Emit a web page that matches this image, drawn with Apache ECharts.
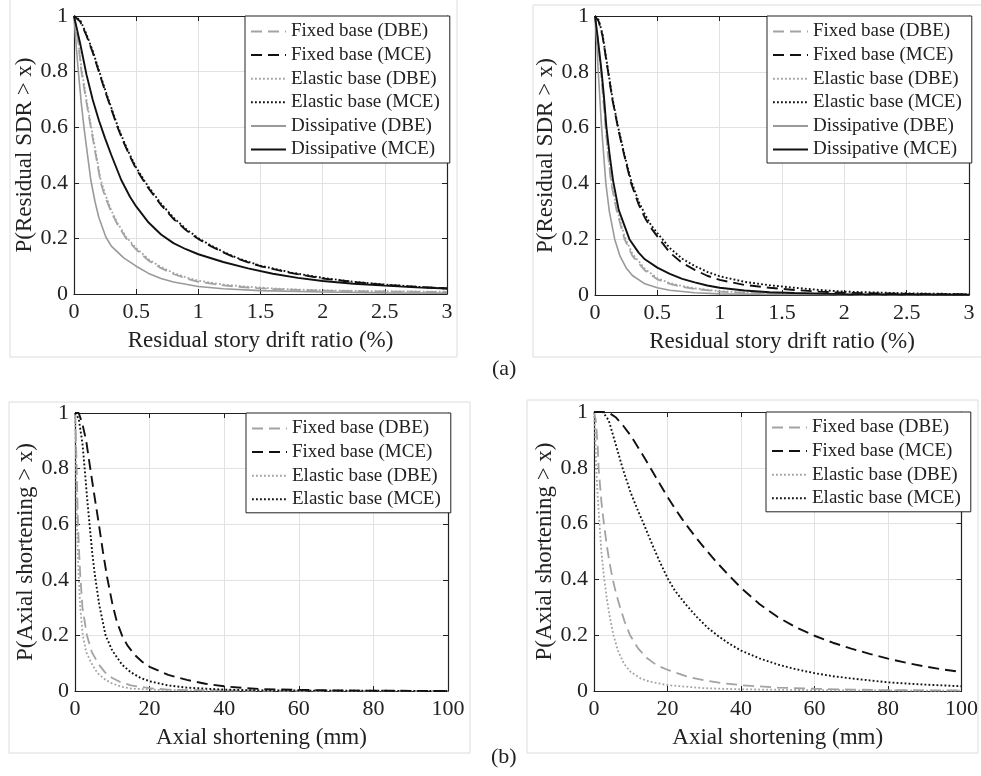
<!DOCTYPE html>
<html>
<head>
<meta charset="utf-8">
<script src="https://cdn.jsdelivr.net/npm/echarts@6/dist/echarts.min.js"></script>
<style>
  html, body { margin: 0; padding: 0; background: #fff; }
  #main { width: 981px; height: 776px; }
</style>
</head>
<body>
<div id="main"></div>
<script>
// ---- data: [x, P(>x)] ----
// (a) left : residual SDR (%)
var a1FixedDBE = [[0,1],[0.03,0.92],[0.06,0.8],[0.1,0.69],[0.135,0.6],[0.175,0.5],[0.215,0.4],[0.25,0.35],[0.3,0.295],[0.35,0.25],[0.42,0.2],[0.5,0.16],[0.6,0.12],[0.7,0.093],[0.8,0.072],[0.9,0.056],[1,0.044],[1.2,0.031],[1.4,0.023],[1.6,0.018],[1.8,0.015],[2,0.012],[2.5,0.009],[3,0.007]];
var a1FixedMCE = [[0,1],[0.05,0.98],[0.1,0.93],[0.15,0.87],[0.2,0.8],[0.25,0.73],[0.3,0.665],[0.35,0.6],[0.4,0.545],[0.45,0.495],[0.5,0.45],[0.57,0.4],[0.6,0.38],[0.7,0.32],[0.8,0.27],[0.9,0.23],[1,0.198],[1.1,0.172],[1.2,0.15],[1.3,0.13],[1.4,0.114],[1.5,0.1],[1.75,0.075],[2,0.056],[2.25,0.043],[2.5,0.033],[2.75,0.026],[3,0.02]];
var a1ElasticDBE = [[0,1],[0.03,0.93],[0.06,0.81],[0.1,0.7],[0.135,0.61],[0.175,0.51],[0.215,0.41],[0.25,0.36],[0.3,0.3],[0.35,0.255],[0.42,0.205],[0.5,0.165],[0.6,0.125],[0.7,0.097],[0.8,0.076],[0.9,0.06],[1,0.048],[1.2,0.034],[1.4,0.026],[1.6,0.02],[1.8,0.016],[2,0.013],[2.5,0.01],[3,0.008]];
var a1ElasticMCE = [[0,1],[0.05,0.985],[0.1,0.935],[0.15,0.875],[0.2,0.805],[0.25,0.735],[0.3,0.67],[0.35,0.605],[0.4,0.55],[0.45,0.5],[0.5,0.455],[0.57,0.405],[0.6,0.385],[0.7,0.325],[0.8,0.275],[0.9,0.234],[1,0.201],[1.1,0.175],[1.2,0.152],[1.3,0.132],[1.4,0.116],[1.5,0.102],[1.75,0.077],[2,0.058],[2.25,0.044],[2.5,0.034],[2.75,0.026],[3,0.02]];
var a1DissDBE = [[0,1],[0.02,0.88],[0.035,0.8],[0.06,0.68],[0.08,0.6],[0.1,0.53],[0.135,0.41],[0.17,0.33],[0.2,0.275],[0.256,0.205],[0.3,0.172],[0.4,0.13],[0.5,0.1],[0.6,0.074],[0.7,0.056],[0.8,0.043],[1,0.027],[1.2,0.019],[1.5,0.012],[2,0.007],[2.5,0.004],[3,0.003]];
var a1DissMCE = [[0,1],[0.025,0.95],[0.05,0.9],[0.1,0.79],[0.15,0.7],[0.2,0.625],[0.25,0.56],[0.3,0.5],[0.38,0.41],[0.45,0.35],[0.5,0.315],[0.6,0.257],[0.7,0.214],[0.8,0.183],[0.9,0.161],[1,0.143],[1.2,0.115],[1.4,0.092],[1.6,0.073],[1.8,0.058],[2,0.047],[2.25,0.037],[2.5,0.03],[2.75,0.024],[3,0.02]];

// (a) right
var a2FixedDBE = [[0,1],[0.02,0.92],[0.048,0.8],[0.085,0.6],[0.105,0.5],[0.13,0.4],[0.175,0.3],[0.237,0.2],[0.3,0.14],[0.4,0.088],[0.5,0.056],[0.6,0.04],[0.7,0.029],[0.8,0.022],[1,0.012],[1.2,0.008],[1.5,0.005],[2,0.002],[3,0.001]];
var a2FixedMCE = [[0,1],[0.03,0.98],[0.06,0.93],[0.105,0.8],[0.14,0.7],[0.184,0.6],[0.235,0.5],[0.29,0.4],[0.35,0.325],[0.4,0.277],[0.45,0.24],[0.5,0.21],[0.6,0.152],[0.7,0.115],[0.8,0.09],[0.9,0.069],[1,0.054],[1.2,0.036],[1.4,0.026],[1.6,0.018],[1.8,0.012],[2,0.008],[2.5,0.004],[3,0.002]];
var a2ElasticDBE = [[0,1],[0.02,0.93],[0.048,0.81],[0.085,0.61],[0.105,0.51],[0.13,0.41],[0.175,0.31],[0.237,0.21],[0.3,0.148],[0.4,0.094],[0.5,0.06],[0.6,0.043],[0.7,0.032],[0.8,0.024],[1,0.014],[1.2,0.009],[1.5,0.005],[2,0.003],[3,0.001]];
var a2ElasticMCE = [[0,1],[0.03,0.985],[0.06,0.935],[0.105,0.805],[0.14,0.705],[0.184,0.605],[0.235,0.505],[0.29,0.41],[0.35,0.335],[0.4,0.29],[0.45,0.25],[0.5,0.222],[0.6,0.168],[0.7,0.13],[0.8,0.104],[0.9,0.083],[1,0.067],[1.2,0.047],[1.4,0.035],[1.6,0.026],[1.8,0.018],[2,0.012],[2.5,0.006],[3,0.003]];
var a2DissDBE = [[0,1],[0.015,0.9],[0.026,0.8],[0.053,0.6],[0.07,0.5],[0.087,0.4],[0.115,0.3],[0.158,0.2],[0.2,0.14],[0.25,0.097],[0.3,0.07],[0.4,0.04],[0.5,0.026],[0.6,0.017],[0.8,0.008],[1,0.004],[1.5,0.002],[3,0]];
var a2DissMCE = [[0,1],[0.02,0.93],[0.053,0.8],[0.07,0.72],[0.092,0.6],[0.118,0.5],[0.145,0.41],[0.19,0.305],[0.276,0.2],[0.35,0.152],[0.4,0.128],[0.5,0.098],[0.6,0.076],[0.7,0.058],[0.8,0.045],[0.9,0.034],[1,0.026],[1.2,0.016],[1.4,0.01],[1.6,0.007],[2,0.003],[3,0.001]];

// (b) left : axial shortening (mm)
var b1FixedDBE = [[0,1],[0.2,0.93],[0.45,0.8],[0.8,0.6],[1.1,0.5],[1.4,0.42],[2,0.3],[3.2,0.2],[4.5,0.14],[6.4,0.095],[8,0.068],[10,0.047],[12,0.033],[15,0.02],[20,0.01],[25,0.005],[30,0.003],[50,0.001],[100,0]];
var b1FixedMCE = [[0,1],[1,1],[2,0.96],[3,0.9],[4.1,0.8],[5,0.72],[6.4,0.6],[7.5,0.5],[8.6,0.41],[10,0.315],[11.2,0.25],[12.6,0.2],[14,0.165],[16,0.13],[18,0.105],[20,0.087],[25,0.058],[30,0.04],[35,0.026],[40,0.017],[45,0.011],[50,0.007],[60,0.004],[70,0.002],[80,0.001],[100,0]];
var b1ElasticDBE = [[0,1],[0.1,0.93],[0.27,0.8],[0.54,0.6],[0.75,0.5],[1,0.41],[1.4,0.3],[2.1,0.2],[3,0.14],[4.6,0.095],[6,0.065],[8.2,0.04],[10,0.027],[12.6,0.015],[15,0.009],[20,0.005],[30,0.002],[100,0]];
var b1ElasticMCE = [[0,1],[1,0.98],[2,0.89],[2.6,0.8],[3.2,0.7],[3.9,0.6],[4.6,0.5],[5.3,0.42],[6.5,0.31],[8.2,0.2],[10,0.145],[12.6,0.095],[15,0.067],[17.6,0.047],[20,0.035],[25,0.02],[30,0.012],[40,0.005],[50,0.002],[100,0]];

// (b) right
var b2FixedDBE = [[0,1],[0.5,0.97],[1,0.88],[1.25,0.8],[2,0.68],[2.7,0.6],[3.5,0.52],[4.3,0.455],[5.1,0.4],[6,0.35],[7,0.305],[8.3,0.25],[9.8,0.2],[12,0.153],[14.4,0.118],[17,0.093],[20,0.076],[25,0.053],[30,0.038],[35,0.028],[40,0.021],[50,0.012],[60,0.008],[70,0.005],[80,0.003],[100,0.002]];
var b2FixedMCE = [[0,1],[2,1],[4,0.998],[6,0.98],[8,0.95],[10,0.915],[12,0.873],[14,0.83],[16,0.785],[18,0.74],[20,0.696],[22,0.655],[24,0.616],[26,0.58],[28,0.546],[30,0.513],[33,0.467],[36,0.424],[40,0.37],[45,0.312],[50,0.265],[55,0.228],[60,0.198],[65,0.173],[70,0.152],[75,0.133],[80,0.116],[85,0.101],[90,0.088],[95,0.077],[100,0.068]];
var b2ElasticDBE = [[0,1],[0.3,0.93],[0.6,0.8],[1,0.7],[1.5,0.6],[2,0.5],[2.7,0.41],[3.5,0.33],[4.3,0.265],[5.3,0.2],[6.5,0.145],[8.2,0.097],[10,0.068],[12.7,0.045],[15,0.034],[20,0.021],[30,0.01],[40,0.006],[60,0.003],[100,0.001]];
var b2ElasticMCE = [[0,1],[2.4,1],[4,0.97],[6,0.88],[7.75,0.8],[10,0.71],[12,0.645],[13.5,0.6],[16,0.52],[18,0.46],[20.2,0.4],[22,0.36],[25,0.31],[28,0.265],[31,0.226],[34,0.195],[37,0.168],[40,0.145],[45,0.117],[50,0.095],[55,0.078],[60,0.064],[65,0.053],[70,0.045],[75,0.038],[80,0.031],[90,0.023],[100,0.017]];

var names = ['Fixed base (DBE)', 'Fixed base (MCE)', 'Elastic base (DBE)', 'Elastic base (MCE)', 'Dissipative (DBE)', 'Dissipative (MCE)'];

var FONT = '"Liberation Serif", "Times New Roman", "DejaVu Serif", serif';
var GRAY = '#a3a3a3', BLACK = '#111';

// line look for each legend entry
var looks = {
    'Fixed base (DBE)':   {color: GRAY,  width: 1.8, type: [11, 6]},
    'Fixed base (MCE)':   {color: BLACK, width: 1.9, type: [11, 6]},
    'Elastic base (DBE)': {color: GRAY,  width: 1.8, type: [1.8, 2.2]},
    'Elastic base (MCE)': {color: BLACK, width: 1.9, type: [1.8, 2.2]},
    'Dissipative (DBE)':  {color: '#9a9a9a', width: 1.6, type: 'solid'},
    'Dissipative (MCE)':  {color: BLACK, width: 1.9, type: 'solid'}
};

// plot boxes, px
var panels = [
    {left: 74,  top: 16,  width: 373, height: 278, max: 3,   interval: 0.5,
     xName: 'Residual story drift ratio (%)', yName: 'P(Residual SDR > x)', legendLeft: 245, legendTop: 16,
     lines: [a1FixedDBE, a1FixedMCE, a1ElasticDBE, a1ElasticMCE, a1DissDBE, a1DissMCE]},
    {left: 595, top: 16,  width: 374, height: 279, max: 3,   interval: 0.5,
     xName: 'Residual story drift ratio (%)', yName: 'P(Residual SDR > x)', legendLeft: 767, legendTop: 16,
     lines: [a2FixedDBE, a2FixedMCE, a2ElasticDBE, a2ElasticMCE, a2DissDBE, a2DissMCE]},
    {left: 75,  top: 413, width: 373, height: 278, max: 100, interval: 20,
     xName: 'Axial shortening (mm)', yName: 'P(Axial shortening > x)', legendLeft: 246, legendTop: 413,
     lines: [b1FixedDBE, b1FixedMCE, b1ElasticDBE, b1ElasticMCE]},
    {left: 594, top: 412, width: 375, height: 279, max: 100, interval: 20,
     xName: 'Axial shortening (mm)', yName: 'P(Axial shortening > x)', legendLeft: 766, legendTop: 412,
     lines: [b2FixedDBE, b2FixedMCE, b2ElasticDBE, b2ElasticMCE]}
];

var grid = [], xAxis = [], yAxis = [], series = [], legend = [];
var axisLine = {show: true, onZero: false, lineStyle: {color: '#222', width: 1.2}};
var tickIn = {show: true, inside: true, length: 5, lineStyle: {color: '#222'}};

panels.forEach(function(p, i){
    grid.push({left: p.left, top: p.top, width: p.width, height: p.height, show: false});

    // bottom + top x axes
    xAxis.push({
        gridIndex: i, type: 'value', min: 0, max: p.max, interval: p.interval, position: 'bottom',
        name: p.xName, nameLocation: 'middle', nameGap: 35,
        nameTextStyle: {fontFamily: FONT, fontSize: 23, color: '#222'},
        axisLine: axisLine, axisTick: tickIn,
        axisLabel: {fontFamily: FONT, fontSize: 22, color: '#222', margin: 7, alignMaxLabel: 'center',
            formatter: function(v){ return String(v); }},
        splitLine: {show: true, lineStyle: {color: '#e2e2e2', width: 1}}
    });
    xAxis.push({
        gridIndex: i, type: 'value', min: 0, max: p.max, interval: p.interval, position: 'top',
        axisLine: axisLine, axisTick: tickIn, axisLabel: {show: false}, splitLine: {show: false}
    });

    // left + right y axes
    yAxis.push({
        gridIndex: i, type: 'value', min: 0, max: 1, interval: 0.2, position: 'left',
        name: p.yName, nameLocation: 'middle', nameGap: 37, nameRotate: 90,
        nameTextStyle: {fontFamily: FONT, fontSize: 23, color: '#222'},
        axisLine: axisLine, axisTick: tickIn,
        axisLabel: {fontFamily: FONT, fontSize: 22, color: '#222', margin: 6,
            formatter: function(v){ return String(Math.round(v * 10) / 10); }},
        splitLine: {show: true, lineStyle: {color: '#e2e2e2', width: 1}}
    });
    yAxis.push({
        gridIndex: i, type: 'value', min: 0, max: 1, interval: 0.2, position: 'right',
        axisLine: axisLine, axisTick: tickIn, axisLabel: {show: false}, splitLine: {show: false}
    });

    var legendNames = [];
    p.lines.forEach(function(d, k){
        var nm = names[k];
        legendNames.push(nm);
        series.push({
            name: nm, type: 'line', xAxisIndex: 2 * i, yAxisIndex: 2 * i,
            data: d, symbol: 'none', smooth: false,
            itemStyle: {color: looks[nm].color},
            lineStyle: looks[nm], z: (k % 2 === 1) ? 4 : 3,
            animation: false
        });
    });

    legend.push({
        data: legendNames, orient: 'vertical', left: p.legendLeft, top: p.legendTop,
        padding: [6, 10, 4, 5], itemGap: 4.6, itemWidth: 35, itemHeight: 14,
        backgroundColor: '#fff', borderColor: '#222', borderWidth: 1, borderRadius: 0,
        selectedMode: false,
        itemStyle: {opacity: 0},
        textStyle: {fontFamily: FONT, fontSize: 19, color: '#222'}
    });
});

var chart = echarts.init(document.getElementById('main'), null, {renderer: 'canvas'});
chart.setOption({
    backgroundColor: '#fff',
    animation: false,
    grid: grid, xAxis: xAxis, yAxis: yAxis, series: series, legend: legend,
    graphic: [
        // faint borders of the pasted sub-figures
        {type: 'rect', shape: {x: 10, y: -2, width: 447, height: 359}, style: {fill: null, stroke: '#dcdcdc', lineWidth: 1}, silent: true, z: -1},
        {type: 'rect', shape: {x: 533, y: 5, width: 460, height: 352}, style: {fill: null, stroke: '#dcdcdc', lineWidth: 1}, silent: true, z: -1},
        {type: 'rect', shape: {x: 9, y: 402, width: 461, height: 351}, style: {fill: null, stroke: '#dcdcdc', lineWidth: 1}, silent: true, z: -1},
        {type: 'rect', shape: {x: 527, y: 400, width: 451, height: 353}, style: {fill: null, stroke: '#dcdcdc', lineWidth: 1}, silent: true, z: -1},
        {type: 'text', left: 492, top: 358, style: {text: '(a)', font: '22px "Liberation Serif", serif', fill: '#222'}},
        {type: 'text', left: 491, top: 746, style: {text: '(b)', font: '22px "Liberation Serif", serif', fill: '#222'}}
    ]
});
</script>
</body>
</html>
